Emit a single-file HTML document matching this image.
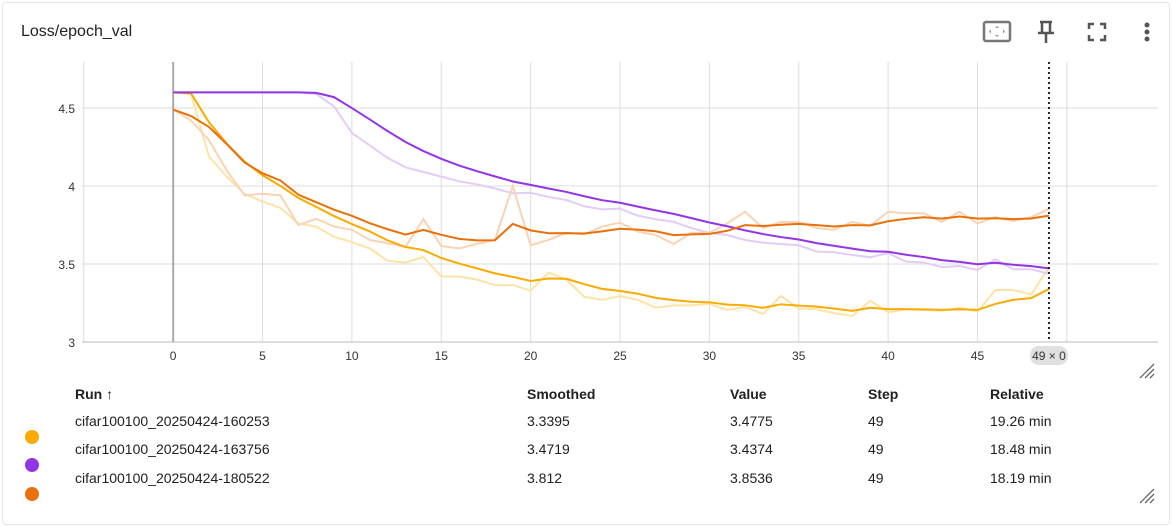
<!DOCTYPE html>
<html><head><meta charset="utf-8"><style>
body{margin:0;width:1172px;height:527px;background:#fff;font-family:"Liberation Sans",sans-serif;overflow:hidden;position:relative;color:#212121}
.card{position:absolute;left:2px;top:2px;width:1166px;height:521px;border:1px solid #e6e6e6;border-radius:4px}
.t{position:absolute;font-size:14px;white-space:nowrap}
.h{font-weight:bold;top:386px}
.dot{position:absolute;width:14px;height:14px;border-radius:50%;left:25px}
</style></head><body>
<div class="card"></div>
<div class="t" style="left:21px;top:23px;font-size:16px">Loss/epoch_val</div>
<svg style="position:absolute;left:960px;top:10px" width="212" height="50">
<g><rect x="24" y="12" width="26" height="19" rx="2" fill="none" stroke="#777" stroke-width="2.5"/><path d="M37 16l-2 2h4zM37 27l-2-2h4zM29 21.5l2-2v4zM45 21.5l-2-2v4z" fill="#999"/></g>
<g fill="none" stroke="#555" stroke-width="2.5"><path d="M80 12h12M82 12v10M90 12v10M78 23h16M86 23v10"/></g>
<g fill="none" stroke="#555" stroke-width="2.5"><path d="M129 19v-5h5M140 14h5v5M145 25v5h-5M134 30h-5v-5"/></g>
<g fill="#555"><circle cx="187" cy="15" r="2.5"/><circle cx="187" cy="22" r="2.5"/><circle cx="187" cy="29" r="2.5"/></g>
</svg>
<svg id="chart" style="position:absolute;left:0;top:0" width="1172" height="380"></svg>
<div class="t h" style="left:75px">Run ↑</div>
<div class="t h" style="left:527px">Smoothed</div>
<div class="t h" style="left:730px">Value</div>
<div class="t h" style="left:868px">Step</div>
<div class="t h" style="left:990px">Relative</div>
<div class="dot" style="top:430px;background:#f9ab00"></div>
<div class="dot" style="top:458px;background:#9334e6"></div>
<div class="dot" style="top:487px;background:#e8710a"></div>
<div class="t" style="left:75px;top:413px">cifar100100_20250424-160253</div>
<div class="t" style="left:527px;top:413px">3.3395</div>
<div class="t" style="left:730px;top:413px">3.4775</div>
<div class="t" style="left:868px;top:413px">49</div>
<div class="t" style="left:990px;top:413px">19.26 min</div>
<div class="t" style="left:75px;top:441px">cifar100100_20250424-163756</div>
<div class="t" style="left:527px;top:441px">3.4719</div>
<div class="t" style="left:730px;top:441px">3.4374</div>
<div class="t" style="left:868px;top:441px">49</div>
<div class="t" style="left:990px;top:441px">18.48 min</div>
<div class="t" style="left:75px;top:470px">cifar100100_20250424-180522</div>
<div class="t" style="left:527px;top:470px">3.812</div>
<div class="t" style="left:730px;top:470px">3.8536</div>
<div class="t" style="left:868px;top:470px">49</div>
<div class="t" style="left:990px;top:470px">18.19 min</div>
<svg style="position:absolute;left:1136px;top:360px" width="20" height="20"><path d="M4 18L18 4M9 18L18 9M14 18L18 14" stroke="#666" stroke-width="1.3"/></svg>
<svg style="position:absolute;left:1136px;top:485px" width="20" height="20"><path d="M4 18L18 4M9 18L18 9M14 18L18 14" stroke="#666" stroke-width="1.3"/></svg>
<script>
const yellowRaw=[4.6,4.59,4.19,4.06,3.95,3.9,3.86,3.76,3.74,3.675,3.64,3.6,3.52,3.51,3.545,3.42,3.42,3.4,3.365,3.365,3.33,3.445,3.4,3.29,3.27,3.295,3.27,3.22,3.235,3.235,3.245,3.205,3.225,3.18,3.295,3.215,3.21,3.185,3.167,3.265,3.19,3.21,3.205,3.2,3.22,3.195,3.333,3.333,3.305,3.4775];
const purpleRaw=[4.6,4.6,4.6,4.6,4.6,4.6,4.6,4.6,4.59,4.51,4.34,4.26,4.18,4.12,4.09,4.06,4.03,4.01,3.985,3.953,3.957,3.93,3.91,3.87,3.85,3.855,3.81,3.787,3.77,3.73,3.7,3.686,3.654,3.637,3.628,3.62,3.58,3.575,3.558,3.543,3.57,3.515,3.51,3.48,3.487,3.462,3.53,3.466,3.466,3.4374];
const orangeRaw=[4.49,4.42,4.295,4.1,3.94,3.95,3.94,3.75,3.79,3.74,3.72,3.654,3.633,3.61,3.787,3.615,3.6,3.63,3.654,4.0,3.62,3.654,3.7,3.69,3.74,3.765,3.707,3.686,3.628,3.7,3.7,3.76,3.835,3.73,3.77,3.77,3.73,3.72,3.77,3.745,3.835,3.825,3.825,3.77,3.835,3.76,3.8,3.775,3.8,3.8536];
const xTicks=[-5,0,5,10,15,20,25,30,35,40,45,50];
const yTicks=[3,3.5,4,4.5];
const yTickLabels=["3","3.5","4","4.5"];
const smoothingWeight=0.7;
const svg=document.getElementById('chart');
const NS='http://www.w3.org/2000/svg';
const X0=-5.1,X1=55.1,Y0=3.0,Y1=4.795,PL=82,PR=1158,PT=62,PB=342;
const xs=v=>PL+(v-X0)/(X1-X0)*(PR-PL);
const ys=v=>PB-(v-Y0)/(Y1-Y0)*(PB-PT);
function mk(t,a){const e=document.createElementNS(NS,t);for(const k in a)e.setAttribute(k,a[k]);svg.appendChild(e);return e;}
function smooth(arr){let last=0,c=0;return arr.map(v=>{last=last*smoothingWeight+(1-smoothingWeight)*v;c++;return last/(1-Math.pow(smoothingWeight,c));});}
yTicks.forEach((t,i)=>{const l=mk('line',{x1:PL,x2:PR,y1:ys(t),y2:ys(t),stroke:'#ddd','stroke-width':1});


const tx=mk('text',{x:75,y:ys(t)+5,'text-anchor':'end','font-size':12,fill:'#333','font-family':'Liberation Sans'});tx.textContent=yTickLabels[i];

});
xTicks.forEach(t=>{const l=mk('line',{x1:xs(t),x2:xs(t),y1:PT,y2:PB,stroke:t===0?'#aaa':'#ddd','stroke-width':t===0?2:1});


if(t<0||t>45)return;const tx=mk('text',{x:xs(t),y:360,'text-anchor':'middle','font-size':12,fill:'#333','font-family':'Liberation Sans'});tx.textContent=t;

});
const ax=mk('line',{x1:PL,x2:PR,y1:PB,y2:PB,stroke:'#bbb','stroke-width':1});


const series=[['yellow',yellowRaw,'#f9ab00','#fde3a7'],['purple',purpleRaw,'#9334e6','#e3ccf8'],['orange',orangeRaw,'#e8710a','#f9d3b3']];
series.forEach(([n,raw,c,lc])=>{const p=mk('polyline',{points:raw.map((v,i)=>xs(i)+','+ys(v)).join(' '),fill:'none',stroke:lc,'stroke-width':2});

});
series.forEach(([n,raw,c])=>{const s=smooth(raw);const p=mk('polyline',{points:s.map((v,i)=>xs(i)+','+ys(v)).join(' '),fill:'none',stroke:c,'stroke-width':2});

});
const hl=mk('line',{x1:xs(49),x2:xs(49),y1:PT,y2:PB,stroke:'#222','stroke-width':2,'stroke-dasharray':'2,3'});


const pill=mk('rect',{x:xs(49)-19,y:346,width:38,height:19,rx:9,fill:'#e0e0e0'});


const pt=mk('text',{x:xs(49),y:360,'text-anchor':'middle','font-size':12,fill:'#333','font-family':'Liberation Sans'});pt.textContent='49 × 0';


</script>
</body></html>
